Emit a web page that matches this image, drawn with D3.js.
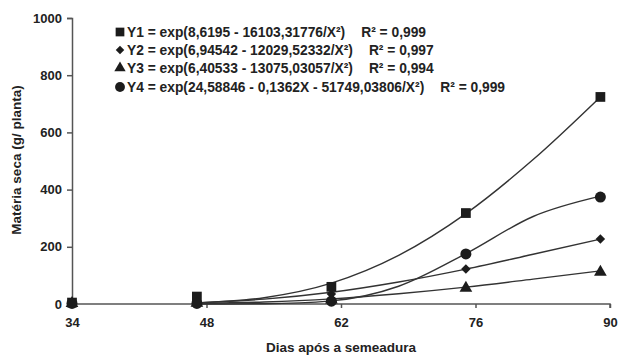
<!DOCTYPE html>
<html>
<head>
<meta charset="utf-8">
<script src="https://cdn.jsdelivr.net/npm/d3@7"></script>
<style>
  body { margin: 0; background: #fff; }
  svg text { font-family: Arial, "Liberation Sans", sans-serif; font-weight: bold; fill: #222; }
</style>
</head>
<body>
<svg id="chart" width="621" height="356"></svg>
<script>
// observed days and values
const days = [34, 47, 61, 75, 89];
const y1 = [5, 26, 60, 318, 724];
const y2 = [3, 5, 35, 122, 227];
const y3 = [2, 3, 15, 56, 112];
const y4 = [2, 2, 10, 175, 374];

// fitted curves
const curveDays = [47, 54, 61, 68, 75, 82, 89];
const fit1 = [4, 22, 73, 170, 316, 505, 724];
const fit2 = [4, 17, 41, 77, 122, 174, 227];
const fit3 = [2, 7, 18, 36, 59, 87, 116];
const fit4 = [0, 1, 11, 62, 176, 306, 377];

const equations = [
  'Y1 = exp(8,6195 - 16103,31776/X²)',
  'Y2 = exp(6,94542 - 12029,52332/X²)',
  'Y3 = exp(6,40533 - 13075,03057/X²)',
  'Y4 = exp(24,58846 - 0,1362X - 51749,03806/X²)'
];
const r2 = ['R² = 0,999', 'R² = 0,997', 'R² = 0,994', 'R² = 0,999'];

const xTicks = [34, 48, 62, 76, 90];
const yTicks = [0, 200, 400, 600, 800, 1000];

const svg = d3.select('#chart');
const ink = '#1c1c1c';

const x = d3.scaleLinear().domain([34, 90]).range([72, 610]);
const y = d3.scaleLinear().domain([0, 1000]).range([304, 18]);

const series = [
  {obs: y1, fit: fit1, sym: d3.symbolSquare, size: 95, rot: 0},
  {obs: y2, fit: fit2, sym: d3.symbolSquare, size: 45, rot: 45},
  {obs: y3, fit: fit3, sym: d3.symbolTriangle, size: 70, rot: 0},
  {obs: y4, fit: fit4, sym: d3.symbolCircle, size: 95, rot: 0}
];

// axes
const yAxis = d3.axisLeft(y).tickValues(yTicks).tickSize(5).tickPadding(5).tickFormat(d3.format('d'));
const xAxis = d3.axisBottom(x).tickValues(xTicks).tickSize(4).tickPadding(10).tickFormat(d3.format('d'));

function style(g) {
  g.select('.domain').attr('stroke', '#555').attr('stroke-width', 1.5);
  g.selectAll('.tick line').attr('stroke', '#555').attr('stroke-width', 1.5);
  g.selectAll('.tick text').attr('fill', '#222').style('font-size', '13px').style('font-weight', 'bold')
    .style('font-family', 'Arial, "Liberation Sans", sans-serif');
}

svg.append('g')
  .attr('transform', 'translate(72,0)')
  .call(yAxis)
  .call(style)
  .call(g => g.select('.domain').attr('d', 'M-5,18.5H0.5V304'));

svg.append('g')
  .attr('transform', 'translate(0,304)')
  .call(xAxis)
  .call(style)
  .call(g => g.select('.domain').attr('d', 'M72,0H610V4'));

// fitted curves
const line = d3.line()
  .x((d, i) => x(curveDays[i]))
  .y(d => y(d))
  .curve(d3.curveMonotoneX);

series.forEach(s => {
  svg.append('path')
    .attr('d', line(s.fit))
    .attr('fill', 'none')
    .attr('stroke', '#333')
    .attr('stroke-width', 1.4);
});

// markers
series.forEach(s => {
  svg.append('g').selectAll('path')
    .data(s.obs)
    .enter().append('path')
    .attr('transform', (d, i) => 'translate(' + x(days[i]) + ',' + y(d) + ') rotate(' + s.rot + ')')
    .attr('d', d3.symbol().type(s.sym).size(s.size))
    .attr('fill', ink);
});

// legend
const legendY = [32, 50, 68, 87];
series.forEach((s, i) => {
  svg.append('path')
    .attr('transform', 'translate(120,' + legendY[i] + ') rotate(' + s.rot + ')')
    .attr('d', d3.symbol().type(s.sym).size(s.size * 0.8))
    .attr('fill', ink);
  const t = svg.append('text')
    .attr('x', 127)
    .attr('y', legendY[i])
    .attr('dy', '0.35em')
    .style('font-size', '13.8px')
    .text(equations[i]);
  const w = t.node().getComputedTextLength();
  svg.append('text')
    .attr('x', 127 + w + 16)
    .attr('y', legendY[i])
    .attr('dy', '0.35em')
    .style('font-size', '13.8px')
    .text(r2[i]);
});

// axis titles
svg.append('text')
  .attr('x', 341)
  .attr('y', 352)
  .attr('text-anchor', 'middle')
  .style('font-size', '13.5px')
  .text('Dias após a semeadura');

svg.append('text')
  .attr('transform', 'translate(21,160) rotate(-90)')
  .attr('text-anchor', 'middle')
  .style('font-size', '13.5px')
  .text('Matéria seca (g/ planta)');
</script>
</body>
</html>
